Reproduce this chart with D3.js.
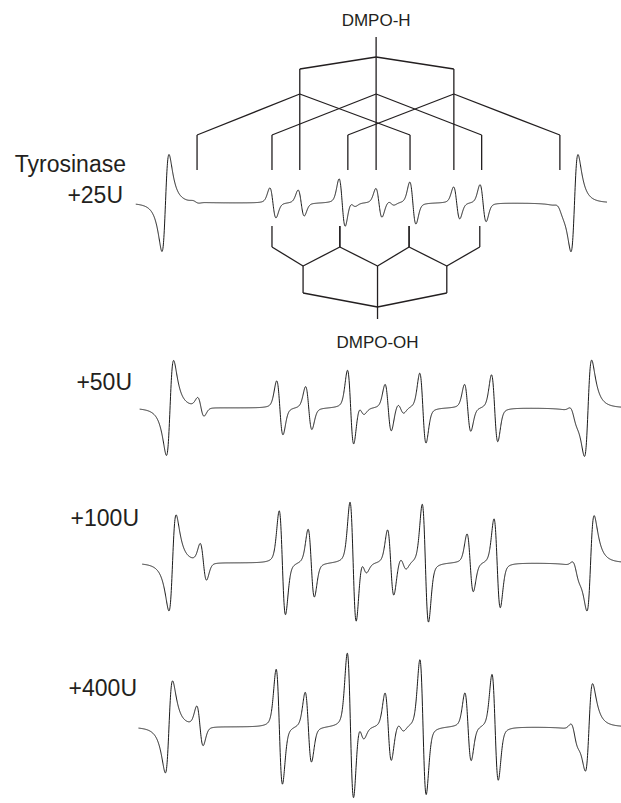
<!DOCTYPE html>
<html>
<head>
<meta charset="utf-8">
<script src="https://cdn.jsdelivr.net/npm/d3@7"></script>
<style>
body { margin: 0; background: #fff; }
text { font-family: "Liberation Sans", Arial, sans-serif; fill: #231f20; }
</style>
</head>
<body>
<div id="chart"></div>
<script>
// field offset (G) across each sweep, 0..100
var lineField   = [12.7, 29.1, 35.1, 43.8, 46.0, 51.6, 54.2, 58.8, 68.1, 73.7, 90.1];
var markerField = [6.3, 93.1];

// peak-to-peak heights per spectrum (same order as lineField)
var doses  = ["+25U", "+50U", "+100U", "+400U"];
var amp25  = [ 2,  30, 26,  48,  5, 29,  4,  42, 32,  37,  5];
var amp50  = [18,  54, 43,  75, 10, 47, 10,  70, 47,  67, 10];
var amp100 = [36, 104, 68, 121, 15, 66, 12, 118, 58,  89, 12];
var amp400 = [39, 115, 70, 147, 18, 68,  8, 135, 68, 106, 15];
var markerAmp = [[97, 97], [95, 96], [96, 95], [92, 87]];

// stick diagrams (G)
var hCenter   = 51.0;
var hNitrogen = [34.8, 51.0, 67.5];
var hLines    = [[13.0, 34.8, 58.2], [28.9, 51.0, 73.4], [45.0, 67.5, 90.0]];
var ohCenter   = 51.3;
var ohNitrogen = [35.5, 51.3, 66.0];
var ohLines    = [[28.9, 43.3], [43.3, 58.0], [58.0, 73.0]];

var W = 621, H = 803;
var svg = d3.select("#chart").append("svg")
  .attr("width", W)
  .attr("height", H);

var xRanges   = [[135.8, 607.0], [139.7, 621.3], [142.2, 623.8], [138.5, 622.4]];
var baselines = [203, 408, 563, 727];
var labelPos  = [[123, 203], [132, 390], [139, 526], [137, 696]];
var amps = [amp25, amp50, amp100, amp400];

var sigmaG = 0.65, lorentzPart = 0.3, markerWidthG = 1.29;

// first-derivative Lorentzian, peak-to-peak = 1, extrema at u = +-1/sqrt(3)
function lor(u) {
  return -2 * u / Math.pow(1 + u * u, 2) / 1.299;
}
// first-derivative Gaussian, peak-to-peak = 1, extrema at u = +-1
function gau(u) {
  return -u * Math.exp(-u * u / 2) / 1.2131;
}
// pseudo-Voigt, extrema at u = +-1
function voigt(u) {
  return (1 - lorentzPart) * gau(u) + lorentzPart * lor(u / Math.sqrt(3));
}

var fieldSteps = d3.range(0, 100.01, 0.04);

var xs = xRanges.map(function(r) {
  return d3.scaleLinear().domain([0, 100]).range(r);
});

amps.forEach(function(a, i) {
  var y = d3.scaleLinear().domain([-100, 100]).range([baselines[i] + 100, baselines[i] - 100]);
  var pts = fieldSteps.map(function(g) {
    var s = 0;
    lineField.forEach(function(f, k) {
      s += a[k] * voigt((g - f) / sigmaG);
    });
    markerField.forEach(function(f, k) {
      s -= markerAmp[i][k] * lor((g - f) / markerWidthG);
    });
    return [g, s];
  });
  var line = d3.line()
    .x(function(d) { return xs[i](d[0]); })
    .y(function(d) { return y(d[1]); });
  svg.append("path")
    .attr("d", line(pts))
    .attr("fill", "none")
    .attr("stroke", "#1a1a1a")
    .attr("stroke-width", 1)
    .attr("stroke-linejoin", "round");

  svg.append("text")
    .attr("x", labelPos[i][0])
    .attr("y", labelPos[i][1])
    .attr("text-anchor", "end")
    .style("font-size", "23px")
    .text(doses[i]);
});

svg.append("text")
  .attr("x", 126)
  .attr("y", 172)
  .attr("text-anchor", "end")
  .style("font-size", "23px")
  .text("Tyrosinase");

// stick diagrams use the first spectrum's field scale
var xs0 = xs[0];
var sticks = svg.append("g")
  .attr("stroke", "#231f20")
  .attr("stroke-width", 1.3)
  .attr("fill", "none");

function seg(x1, y1, x2, y2) {
  sticks.append("line")
    .attr("x1", xs0(x1)).attr("y1", y1)
    .attr("x2", xs0(x2)).attr("y2", y2);
}

// DMPO-H (above)
seg(hCenter, 37, hCenter, 57);
hNitrogen.forEach(function(n, i) {
  seg(hCenter, 57, n, 69);
  seg(n, 69, n, 94);
  hLines[i].forEach(function(l) {
    seg(n, 94, l, 135);
    seg(l, 135, l, 170);
  });
});

// DMPO-OH (below, drawn upward)
seg(ohCenter, 319, ohCenter, 307);
ohNitrogen.forEach(function(n, i) {
  seg(ohCenter, 307, n, 293);
  seg(n, 293, n, 266);
  ohLines[i].forEach(function(l) {
    seg(n, 266, l, 247);
    seg(l, 247, l, 226);
  });
});

svg.append("text")
  .attr("x", xs0(hCenter))
  .attr("y", 26)
  .attr("text-anchor", "middle")
  .style("font-size", "17px")
  .text("DMPO-H");

svg.append("text")
  .attr("x", xs0(ohCenter))
  .attr("y", 348)
  .attr("text-anchor", "middle")
  .style("font-size", "17px")
  .text("DMPO-OH");
</script>
</body>
</html>
